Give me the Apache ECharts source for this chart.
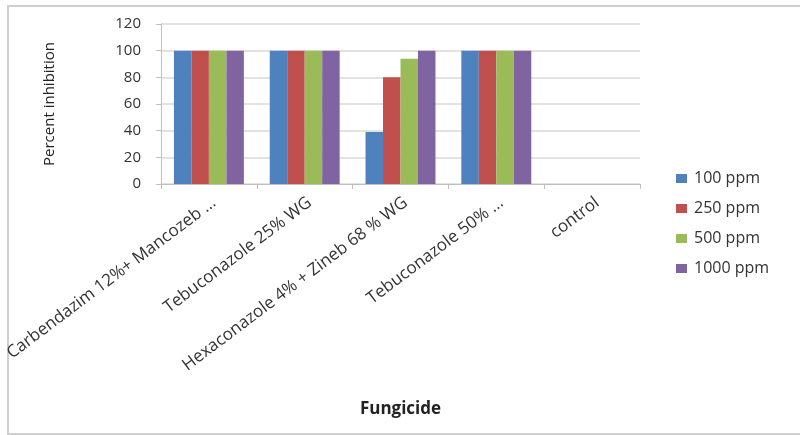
<!DOCTYPE html>
<html>
<head>
<meta charset="utf-8">
<script src="https://cdn.jsdelivr.net/npm/echarts@6/dist/echarts.min.js"></script>
<style>html,body{margin:0;padding:0;background:#fff}#c{width:800px;height:435px}</style>
</head>
<body>
<div id="c"></div>
<script>
const categories = ["Carbendazim 12%+ Mancozeb ...", "Tebuconazole 25% WG", "Hexaconazole 4% + Zineb 68 % WG", "Tebuconazole 50% ...", "control"];
const seriesNames = ["100 ppm", "250 ppm", "500 ppm", "1000 ppm"];
const ppm100 = [100, 100, 39, 100, 0];
const ppm250 = [100, 100, 80, 100, 0];
const ppm500 = [100, 100, 94, 100, 0];
const ppm1000 = [100, 100, 100, 100, 0];
const yTicks = [0, 20, 40, 60, 80, 100, 120];
const colors = ["#4f81bd", "#c0504d", "#9bbb59", "#8064a2"];

const chart = echarts.init(document.getElementById('c'));
const dataSets = [ppm100, ppm250, ppm500, ppm1000];
chart.setOption({
  animation: false,
  color: colors,
  textStyle: { fontFamily: 'Open Sans' },
  graphic: [{
    type: 'rect', shape: { x: 8, y: 6, width: 800, height: 428 },
    style: { fill: 'none', stroke: '#cfcfcf', lineWidth: 2 }, silent: true
  }],
  grid: { left: 161, right: 160, top: 24, bottom: 251, containLabel: false, outerBoundsMode: 'none' },
  legend: {
    orient: 'vertical', left: 671, top: 163, itemGap: 9, itemWidth: 11, itemHeight: 9,
    icon: 'rect', textStyle: { fontSize: 16, color: '#333', fontFamily: 'Open Sans', padding: [0, 0, 0, 2], lineHeight: 21 },
    data: seriesNames
  },
  xAxis: {
    type: 'category', data: categories,
    name: 'Fungicide', nameLocation: 'middle', nameGap: 217,
    nameTextStyle: { fontSize: 17, fontWeight: 'bold', color: '#222', fontFamily: 'Open Sans' },
    axisLine: { lineStyle: { color: '#bfbfbf', width: 1 } },
    axisTick: { show: true, lineStyle: { color: '#bfbfbf' }, length: 5 },
    axisLabel: { rotate: 37, fontSize: 17, color: '#333', margin: 10, interval: 0, verticalAlign: 'top' }
  },
  yAxis: {
    type: 'value', min: 0, max: 120, interval: 20,
    name: 'Percent inhibition', nameLocation: 'middle', nameGap: 104, nameRotate: 90,
    nameTextStyle: { fontSize: 15, color: '#222', fontFamily: 'Open Sans', fontWeight: 500 },
    axisLine: { show: true, lineStyle: { color: '#bfbfbf', width: 1 } },
    axisTick: { show: true, length: 5, lineStyle: { color: '#bfbfbf' } },
    splitLine: { lineStyle: { color: '#d9d9d9', width: 1.5 } },
    axisLabel: { fontSize: 15, color: '#333', margin: 20,
      formatter: v => yTicks.includes(v) ? String(v) : '' }
  },
  series: dataSets.map((d, i) => ({
    type: 'bar', name: seriesNames[i], data: d,
    barGap: '0%', barCategoryGap: '27%',
    itemStyle: { color: colors[i] }
  }))
});
</script>
</body>
</html>
